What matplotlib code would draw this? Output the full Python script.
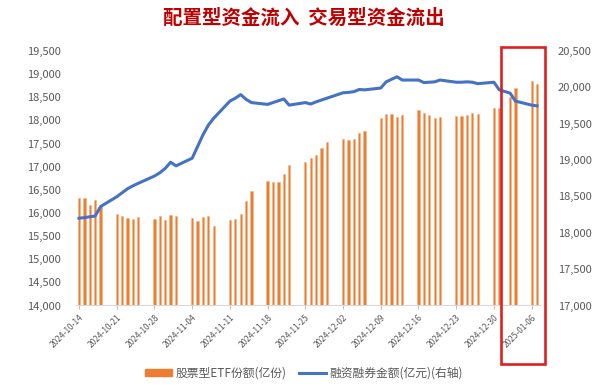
import numpy as np
import matplotlib
matplotlib.use('Agg')
import matplotlib.pyplot as plt
import matplotlib.dates as mdates
import matplotlib.patches as mpatches
from matplotlib.lines import Line2D

plt.rcParams['font.family'] = ['Noto Sans CJK SC', 'DejaVu Sans']

# trading days shown in the chart
fechas = np.array([
    '2024-10-14', '2024-10-15', '2024-10-16', '2024-10-17', '2024-10-18',
    '2024-10-21', '2024-10-22', '2024-10-23', '2024-10-24', '2024-10-25',
    '2024-10-28', '2024-10-29', '2024-10-30', '2024-10-31', '2024-11-01',
    '2024-11-04', '2024-11-05', '2024-11-06', '2024-11-07', '2024-11-08',
    '2024-11-11', '2024-11-12', '2024-11-13', '2024-11-14', '2024-11-15',
    '2024-11-18', '2024-11-19', '2024-11-20', '2024-11-21', '2024-11-22',
    '2024-11-25', '2024-11-26', '2024-11-27', '2024-11-28', '2024-11-29',
    '2024-12-02', '2024-12-03', '2024-12-04', '2024-12-05', '2024-12-06',
    '2024-12-09', '2024-12-10', '2024-12-11', '2024-12-12', '2024-12-13',
    '2024-12-16', '2024-12-17', '2024-12-18', '2024-12-19', '2024-12-20',
    '2024-12-23', '2024-12-24', '2024-12-25', '2024-12-26', '2024-12-27',
    '2024-12-30', '2024-12-31', '2025-01-02', '2025-01-03',
    '2025-01-06', '2025-01-07',
], dtype='datetime64[D]')

# 股票型ETF份额 (亿份), eje izquierdo
etf = [
    16330, 16330, 16165, 16275, 16150,
    15970, 15930, 15895, 15865, 15910,
    15865, 15925, 15850, 15965, 15925,
    15885, 15835, 15915, 15940, 15720,
    15840, 15865, 15985, 16265, 16480,
    16685, 16660, 16670, 16840, 17035,
    17090, 17190, 17260, 17400, 17540,
    17600, 17575, 17605, 17720, 17775,
    18050, 18130, 18130, 18065, 18115,
    18230, 18160, 18115, 18045, 18080,
    18100, 18100, 18125, 18160, 18140,
    18275, 18275, 18500, 18705,
    18860, 18780,
]

# 融资融券金额 (亿元), eje derecho
margen = [
    18200, 18208, 18220, 18230, 18360,
    18495, 18550, 18605, 18645, 18680,
    18780, 18825, 18885, 18970, 18920,
    19025, 19185, 19345, 19480, 19575,
    19810, 19850, 19900, 19835, 19790,
    19765, 19790, 19815, 19840, 19755,
    19790, 19770, 19800, 19825, 19850,
    19925, 19930, 19940, 19970, 19965,
    19990, 20075, 20110, 20145, 20100,
    20100, 20065, 20070, 20075, 20100,
    20070, 20070, 20075, 20070, 20050,
    20070, 19965, 19920, 19810,
    19755, 19745,
]

ticks_semana = np.arange(np.datetime64('2024-10-14'), np.datetime64('2025-01-07'),
                         np.timedelta64(7, 'D'))
ticks_izq = np.arange(14000, 19501, 500)
ticks_der = np.arange(17000, 20501, 500)

naranja = '#ED7D31'
azul = '#4472C4'
gris = '#595959'

x = mdates.date2num(fechas.astype('datetime64[ms]').astype(object))
xt = mdates.date2num(ticks_semana.astype('datetime64[ms]').astype(object))

fig = plt.figure(figsize=(6.08, 3.91), dpi=100)
ax = fig.add_axes([0.1255, 0.2187, 0.7622, 0.651])

ax.bar(x, etf, width=0.42, color=naranja, edgecolor='#F4B183', linewidth=0.4)
ax.set_ylim(14000, 19500)
ax.set_xlim(x[0] - 0.5, x[-1] + 0.5)
ax.set_yticks(ticks_izq)
ax.set_yticklabels([f'{v:,}' for v in ticks_izq])

ax.set_xticks(xt)
ax.set_xticklabels([str(t) for t in ticks_semana], rotation=45, ha='right',
                   va='top', rotation_mode='anchor', fontsize=6, color=gris)
ax.tick_params(axis='x', length=3, color='#BFBFBF', pad=2.5)
ax.tick_params(axis='y', length=0, pad=11, labelsize=8, labelcolor=gris)

for lado in ['top', 'right', 'left']:
    ax.spines[lado].set_visible(False)
ax.spines['bottom'].set_color('#D9D9D9')

ax2 = ax.twinx()
ax2.plot(x, margen, color=azul, linewidth=2.2, solid_joinstyle='round')
ax2.set_ylim(17000, 20500)
ax2.set_yticks(ticks_der)
ax2.set_yticklabels([f'{v:,}' for v in ticks_der])
ax2.tick_params(axis='y', length=0, pad=13, labelsize=8, labelcolor=gris)
for lado in ['top', 'right', 'left', 'bottom']:
    ax2.spines[lado].set_visible(False)

fig.text(0.5, 0.953, '配置型资金流入  交易型资金流出', ha='center', va='center',
         fontsize=14, fontweight='bold', color='#C00000')

# recuadro rojo sobre la última semana
caja = mpatches.Rectangle((0.8235, 0.069), 0.0737, 0.8108, transform=fig.transFigure,
                          fill=False, edgecolor='#E0201E', linewidth=1.9)
fig.patches.append(caja)

manejadores = [mpatches.Patch(color=naranja),
               Line2D([0], [0], color=azul, linewidth=2.2)]
fig.legend(manejadores, ['股票型ETF份额(亿份)', '融资融券金额(亿元)(右轴)'],
           loc='center', bbox_to_anchor=(0.5, 0.046), ncol=2, frameon=False,
           fontsize=8.5, handlelength=2.3, handleheight=0.5, handletextpad=0.3,
           columnspacing=1.0, labelcolor=gris)

fig.savefig('out.png', dpi=100)
